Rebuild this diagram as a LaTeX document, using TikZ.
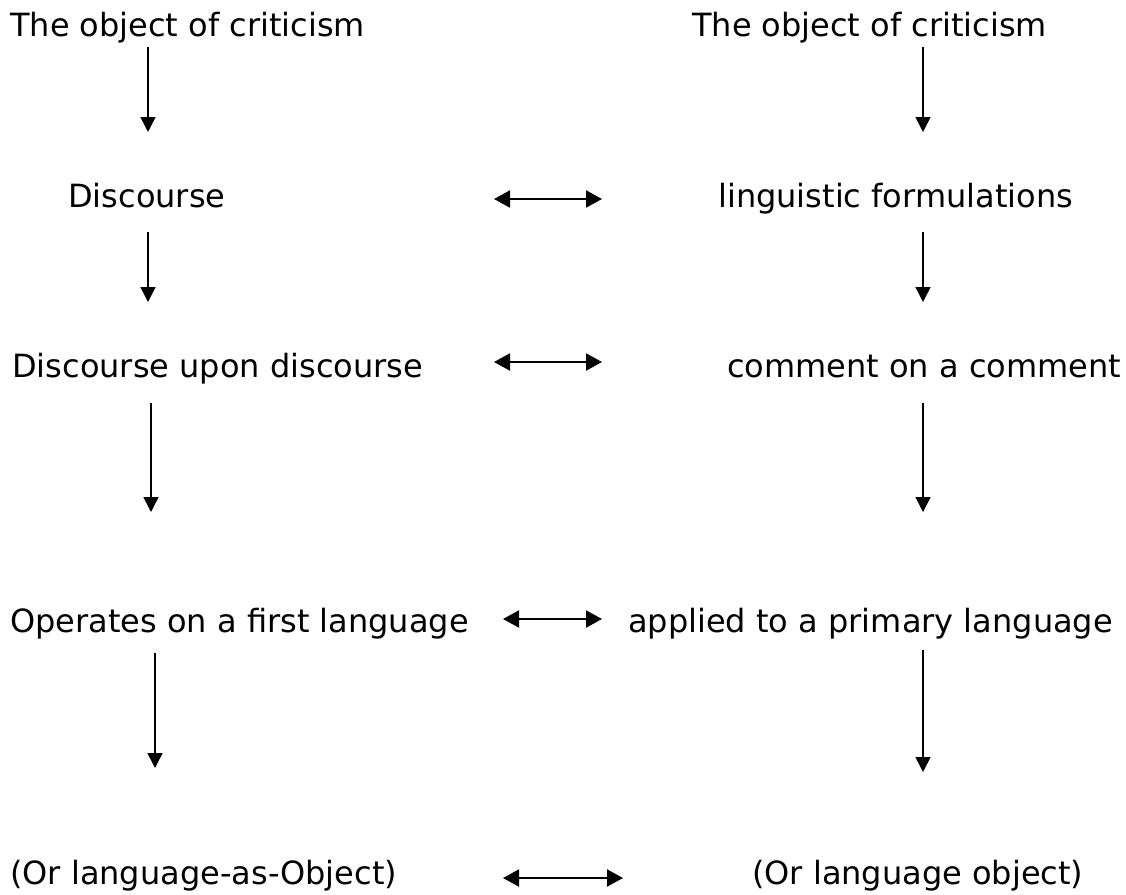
\documentclass[tikz,border=0pt]{standalone}
\usepackage{fontspec}
\setmainfont{DejaVu Sans}
\usetikzlibrary{arrows.meta}
\begin{document}
\begin{tikzpicture}[x=1pt,y=-1pt,
  lbl/.style={inner sep=0pt,anchor=base west,font=\fontsize{32}{38}\selectfont},
  arr/.style={line width=1.5pt,-{Triangle[length=15pt,width=15pt]}},
  darr/.style={line width=2pt,{Triangle[length=16pt,width=17pt]}-{Triangle[length=16pt,width=17pt]}}]
\useasboundingbox (0,0) rectangle (1126,894);
% left column
\node[lbl] (l1) at (10,36) {The object of criticism};
\node[lbl] (l2) at (68,207) {Discourse};
\node[lbl] (l3) at (12,377) {Discourse upon discourse};
\node[lbl] (l4) at (10,632) {Operates on a first language};
\node[lbl] (l5) at (10,884) {(Or language-as-Object)};
% right column
\node[lbl] (r1) at (692,36) {The object of criticism};
\node[lbl] (r2) at (718,207) {linguistic formulations};
\node[lbl] (r3) at (727,377) {comment on a comment};
\node[lbl] (r4) at (628,632) {applied to a primary language};
\node[lbl] (r5) at (752,884) {(Or language object)};
% arrow end points
\coordinate (la1) at (148,47);  \coordinate (lb1) at (148,132);
\coordinate (la2) at (148,232); \coordinate (lb2) at (148,302);
\coordinate (la3) at (151,403); \coordinate (lb3) at (151,512);
\coordinate (la4) at (155,653); \coordinate (lb4) at (155,768);
\coordinate (ra1) at (923,47);  \coordinate (rb1) at (923,132);
\coordinate (ra2) at (923,232); \coordinate (rb2) at (923,302);
\coordinate (ra3) at (923,403); \coordinate (rb3) at (923,512);
\coordinate (ra4) at (923,650); \coordinate (rb4) at (923,772);
\coordinate (h2a) at (494,199); \coordinate (h2b) at (602,199);
\coordinate (h3a) at (494,362); \coordinate (h3b) at (602,362);
\coordinate (h4a) at (503,619); \coordinate (h4b) at (602,619);
\coordinate (h5a) at (503,878); \coordinate (h5b) at (623,878);
\foreach \i in {1,2,3,4}{
  \draw[arr] (la\i) -- (lb\i);
  \draw[arr] (ra\i) -- (rb\i);
}
\foreach \i in {2,3,4,5}{
  \draw[darr] (h\i a) -- (h\i b);
}
\end{tikzpicture}
\end{document}
